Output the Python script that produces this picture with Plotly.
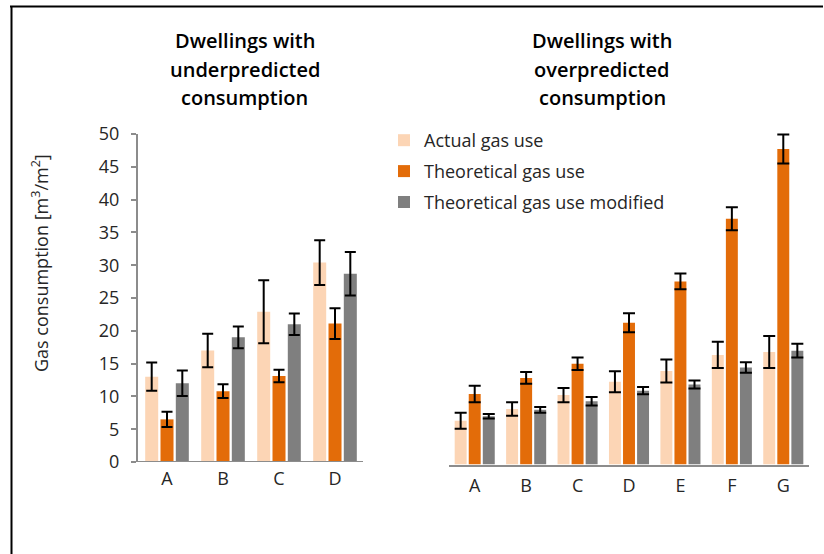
import plotly.graph_objects as go

# ---------------- data ----------------
cats_under = ["A", "B", "C", "D"]
under_actual = [13.0, 17.0, 22.9, 30.4]
under_actual_err = [2.15, 2.55, 4.8, 3.4]
under_theory = [6.5, 10.8, 13.1, 21.1]
under_theory_err = [1.15, 1.05, 0.95, 2.35]
under_modified = [12.0, 19.0, 21.0, 28.7]
under_modified_err = [1.95, 1.65, 1.65, 3.3]

cats_over = ["A", "B", "C", "D", "E", "F", "G"]
over_actual = [6.68, 8.46, 10.58, 12.6, 14.25, 16.7, 17.15]
over_actual_err = [1.22, 1.02, 1.08, 1.6, 1.75, 2.0, 2.45]
over_theory = [10.75, 13.2, 15.35, 21.6, 27.9, 37.45, 48.1]
over_theory_err = [1.25, 0.9, 0.95, 1.45, 1.2, 1.75, 2.2]
over_modified = [7.35, 8.33, 9.65, 11.25, 12.2, 14.8, 17.35]
over_modified_err = [0.35, 0.43, 0.65, 0.55, 0.6, 0.8, 1.05]

series_names = ["Actual gas use", "Theoretical gas use", "Theoretical gas use modified"]
colors = ["#FCD5B5", "#E36C09", "#7F7F7F"]
y_ticks = [0, 5, 10, 15, 20, 25, 30, 35, 40, 45, 50]
title_under = ["Dwellings with", "underpredicted", "consumption"]
title_over = ["Dwellings with", "overpredicted", "consumption"]

W, H = 824, 554
FONT = "Open Sans"
def px(x):
    return x / W
def py(y):
    return 1 - y / H

fig = go.Figure()

under = [(under_actual, under_actual_err), (under_theory, under_theory_err),
         (under_modified, under_modified_err)]
over = [(over_actual, over_actual_err), (over_theory, over_theory_err),
        (over_modified, over_modified_err)]

for i, (vals, errs) in enumerate(under):
    fig.add_trace(go.Bar(
        x=cats_under, y=vals, name=series_names[i], marker_color=colors[i],
        marker_line_width=0, showlegend=False, xaxis="x", yaxis="y",
        error_y=dict(type="data", array=errs, color="black", thickness=2, width=5.5),
        cliponaxis=False, hoverinfo="x+y"))

for i, (vals, errs) in enumerate(over):
    fig.add_trace(go.Bar(
        x=cats_over, y=vals, name=series_names[i], marker_color=colors[i],
        marker_line_width=0, showlegend=True, legendgroup=f"g{i}",
        xaxis="x2", yaxis="y2",
        error_y=dict(type="data", array=errs, color="black", thickness=2, width=6),
        cliponaxis=False, hoverinfo="x+y"))

axis_col = "#8C8C8C"
tickfont = dict(family=FONT, size=18, color="#262626")

annotations = []
for cx, lines in ((245, title_under), (602, title_over)):
    for k, line in enumerate(lines):
        annotations.append(dict(
            text=line, xref="paper", yref="paper", x=px(cx), y=py(41 + 28 * k),
            xanchor="center", yanchor="middle", showarrow=False,
            font=dict(family=FONT, size=20, color="black", weight=600)))
annotations.append(dict(
    text="Gas consumption [m<sup>3</sup>/m<sup>2</sup>]", xref="paper",
    yref="paper", x=px(40), y=py(263), xanchor="center", yanchor="middle",
    textangle=-90, showarrow=False, font=dict(family=FONT, size=18, color="#262626")))

fig.update_layout(
    width=W, height=H,
    margin=dict(l=0, r=0, t=0, b=0, pad=0, autoexpand=False),
    paper_bgcolor="white", plot_bgcolor="white",
    barmode="group", bargap=0.18, bargroupgap=0.15,
    font=dict(family=FONT, color="#262626"),
    xaxis=dict(domain=[px(138), px(363)], range=[-0.518, 3.5], showline=False,
               showgrid=False, zeroline=False, ticks="", tickfont=tickfont,
               ticklabelstandoff=4, anchor="y", automargin=False),
    yaxis=dict(domain=[py(462), py(134)], range=[0, 50], tickvals=y_ticks,
               showline=True, linecolor=axis_col, linewidth=2, ticks="outside",
               ticklen=5, tickwidth=2, tickcolor=axis_col, showgrid=False,
               zeroline=False, tickfont=tickfont, ticklabelstandoff=8, anchor="x",
               automargin=False),
    xaxis2=dict(domain=[px(449), px(809)], range=[-0.5, 6.5], showline=True,
                linecolor=axis_col, linewidth=2, showgrid=False, zeroline=False,
                ticks="", tickfont=tickfont, ticklabelstandoff=4, anchor="y2",
                automargin=False),
    yaxis2=dict(domain=[py(464.5), py(464.5 - 52 * 6.56)], range=[0, 52],
                visible=False, anchor="x2", automargin=False),
    legend=dict(x=px(384), y=py(122), xanchor="left", yanchor="top",
                font=dict(family=FONT, size=18, color="#262626"),
                bgcolor="rgba(0,0,0,0)", tracegroupgap=4.5, traceorder="grouped"),
    shapes=[
        # left x axis baseline (extends past y axis like the original)
        dict(type="line", xref="paper", yref="y", x0=px(133), x1=px(363), y0=0, y1=0,
             line=dict(color=axis_col, width=2)),
        # outer frame (top and left edges)
        dict(type="line", xref="paper", yref="paper", x0=px(10), x1=px(823),
             y0=py(6.5), y1=py(6.5), line=dict(color="black", width=2)),
        dict(type="line", xref="paper", yref="paper", x0=px(11.5), x1=px(11.5),
             y0=py(6), y1=py(554), line=dict(color="black", width=2)),
    ],
    annotations=annotations,
)

fig.write_html("out.html", config={"displayModeBar": False},
               post_script="document.body.style.margin='0px';")
